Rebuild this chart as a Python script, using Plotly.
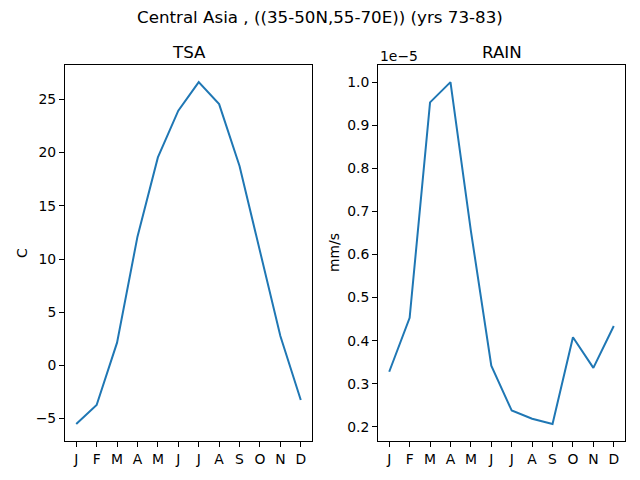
import plotly.graph_objects as go
from plotly.subplots import make_subplots

months = ['J', 'F', 'M', 'A', 'M', 'J', 'J', 'A', 'S', 'O', 'N', 'D']
tsa = [-5.5, -3.72, 2.14, 12.1, 19.55, 23.94, 26.63, 24.56, 18.74, 10.62, 2.76, -3.25]
# rain in units of 1e-5 mm/s
rain = [0.328, 0.453, 0.953, 1.0, 0.655, 0.342, 0.238, 0.219, 0.207, 0.408, 0.337, 0.434]
rain_ticks = [0.2, 0.3, 0.4, 0.5, 0.6, 0.7, 0.8, 0.9, 1.0]

xs = list(range(len(months)))
blue = '#1f77b4'
font = 'DejaVu Sans'

fig = make_subplots(rows=1, cols=2)
fig.add_trace(go.Scatter(x=xs, y=tsa, mode='lines', line=dict(color=blue, width=2)), row=1, col=1)
fig.add_trace(go.Scatter(x=xs, y=rain, mode='lines', line=dict(color=blue, width=2)), row=1, col=2)


def pad(vals):
    lo, hi = min(vals), max(vals)
    m = (hi - lo) * 0.05
    return [lo - m, hi + m]


axis_style = dict(showgrid=False, zeroline=False, showline=True, linecolor='black', linewidth=1,
                  mirror=True, ticks='outside', ticklen=5, tickcolor='black', tickwidth=1,
                  automargin=False, tickfont=dict(family=font, size=13.9, color='black'))

fig.update_xaxes(axis_style, tickvals=xs, ticktext=months, range=pad(xs))
fig.update_xaxes(domain=[65 / 640, 312 / 640], row=1, col=1)
fig.update_xaxes(domain=[378 / 640, 625 / 640], row=1, col=2)
fig.update_yaxes(axis_style, domain=[1 - 441 / 480, 1 - 65 / 480])
fig.update_yaxes(range=pad(tsa), tickvals=[-5, 0, 5, 10, 15, 20, 25], row=1, col=1)
fig.update_yaxes(range=pad(rain), tickvals=rain_ticks,
                 ticktext=['%.1f' % t for t in rain_ticks], row=1, col=2)

ann = [
    dict(text='Central Asia , ((35-50N,55-70E)) (yrs 73-83)', x=0.5, y=1 - 17 / 480, size=16.7),
    dict(text='TSA', x=188.5 / 640, y=1 - 52 / 480, size=16.7),
    dict(text='RAIN', x=501.5 / 640, y=1 - 52 / 480, size=16.7),
]
for a in ann:
    fig.add_annotation(text=a['text'], x=a['x'], y=a['y'], xref='paper', yref='paper',
                       showarrow=False, xanchor='center', yanchor='middle',
                       font=dict(family=font, size=a['size'], color='black'))
fig.add_annotation(text='C', x=22 / 640, y=1 - 253 / 480, xref='paper', yref='paper', textangle=-90,
                   showarrow=False, xanchor='center', yanchor='middle',
                   font=dict(family=font, size=13.9, color='black'))
fig.add_annotation(text='mm/s', x=334 / 640, y=1 - 253 / 480, xref='paper', yref='paper', textangle=-90,
                   showarrow=False, xanchor='center', yanchor='middle',
                   font=dict(family=font, size=13.9, color='black'))
fig.add_annotation(text='1e\u22125', x=378 / 640, y=1 - 56 / 480, xref='paper', yref='paper',
                   xanchor='left', yanchor='middle', showarrow=False,
                   font=dict(family=font, size=13.9, color='black'))

fig.update_layout(width=640, height=480, margin=dict(l=0, r=0, t=0, b=0),
                  plot_bgcolor='white', paper_bgcolor='white', showlegend=False)

fig.write_html('out.html', config={'displayModeBar': False},
               post_script="document.body.style.margin='0';")
